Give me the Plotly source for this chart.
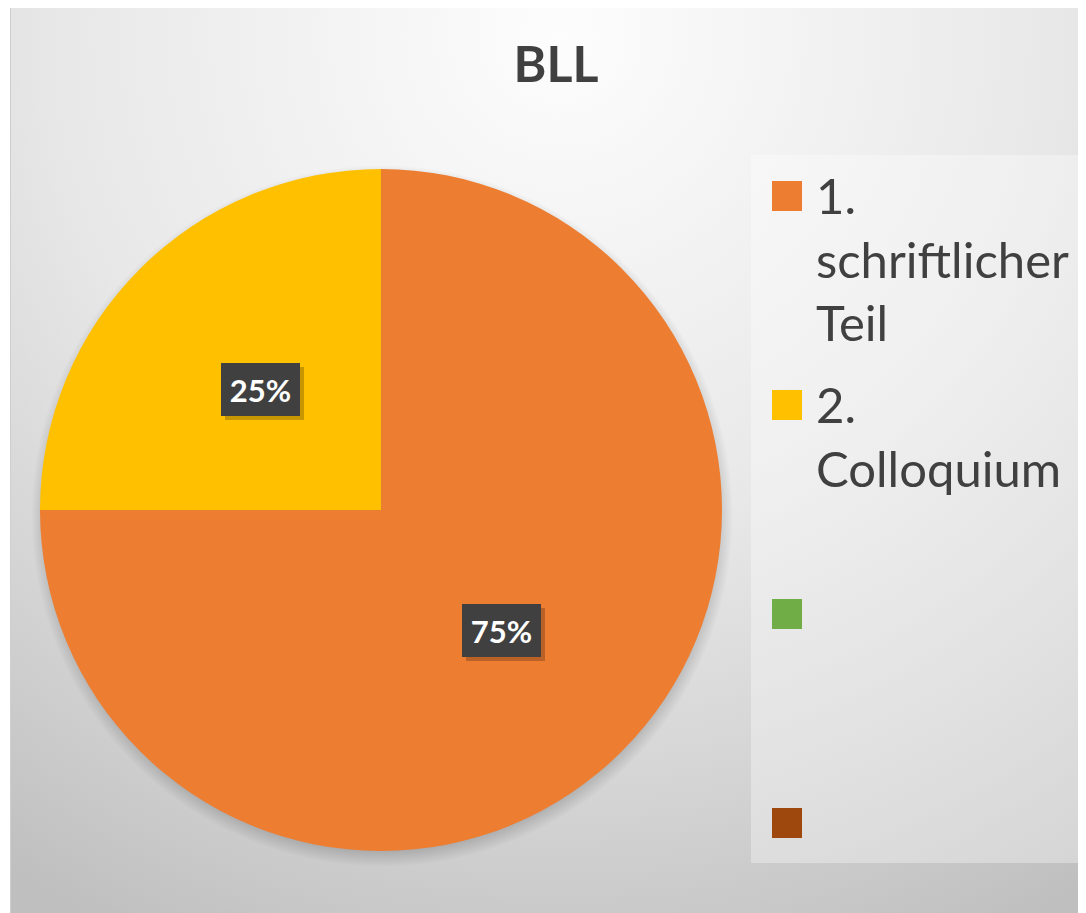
import base64
import math
import plotly.graph_objects as go

# ---------------- data ----------------
title_text = "BLL"
categories = ["1. schriftlicher Teil", "2. Colloquium", "", ""]
legend_labels = ["1.<br>schriftlicher<br>Teil", "2.<br>Colloquium", "", ""]
values = [75, 25, 0, 0]
colors = ["#ED7D31", "#FFC000", "#70AD47", "#9E480E"]

W, H = 1086, 913
OFF = 8  # page body margin

def px(x):
    return (x - OFF) / W

def py(y):
    return 1 - (y - OFF) / H

# pie geometry (page pixels)
PIE_L, PIE_R, PIE_T, PIE_B = 40, 722, 169, 851
cx, cy = (PIE_L + PIE_R) / 2, (PIE_T + PIE_B) / 2
rad = (PIE_R - PIE_L) / 2

# background: radial gradient as svg image (figure coords = page - OFF)
gx, gy = 560 - OFF, 35 - OFF
scx, scy = cx - OFF + 1, cy - OFF + 6
svg = f'''<svg xmlns="http://www.w3.org/2000/svg" width="{W}" height="{H}" viewBox="0 0 {W} {H}" preserveAspectRatio="none">
<defs><radialGradient id="g" gradientUnits="userSpaceOnUse" cx="{gx}" cy="{gy}" r="1000">
<stop offset="0" stop-color="#fdfdfd"/><stop offset="0.5" stop-color="#e8e8e8"/>
<stop offset="0.75" stop-color="#d5d5d5"/><stop offset="1" stop-color="#bfbfbf"/></radialGradient>
<radialGradient id="s" cx="0.5" cy="0.5" r="0.5">
<stop offset="0.93" stop-color="#000" stop-opacity="0.25"/><stop offset="1" stop-color="#000" stop-opacity="0"/></radialGradient></defs>
<rect x="0" y="0" width="{W}" height="{H}" fill="#ffffff"/>
<rect x="{10.5 - OFF}" y="-4" width="{W}" height="{H + 10}" fill="url(#g)" stroke="#cfcfcf" stroke-width="1"/>
<ellipse cx="{scx}" cy="{scy}" rx="{rad + 10}" ry="{rad + 10}" fill="url(#s)"/>
</svg>'''
src = "data:image/svg+xml;base64," + base64.b64encode(svg.encode()).decode()

pie_vals = [v for v in values if v > 0]
pie_labels = [c for c, v in zip(categories, values) if v > 0]
pie_cols = [c for c, v in zip(colors, values) if v > 0]

fig = go.Figure()
fig.add_trace(go.Pie(
    labels=pie_labels, values=pie_vals, sort=False, direction="clockwise", rotation=0,
    marker=dict(colors=pie_cols, line=dict(width=0)),
    textinfo="none", hoverinfo="label+percent", showlegend=False,
    domain=dict(x=[px(PIE_L), px(PIE_R)], y=[py(PIE_B), py(PIE_T)]),
))

annotations = []
shapes = []

# legend box
shapes.append(dict(type="rect", xref="paper", yref="paper", layer="below",
                   x0=px(751), x1=px(1083), y0=py(863), y1=py(155),
                   fillcolor="rgba(255,255,255,0.33)", line=dict(width=0)))

# data labels at mid-angle, half radius
total = sum(pie_vals)
cum = 0
for v in pie_vals:
    mid = (cum + v / 2) / total * 2 * math.pi
    cum += v
    lx = cx + 0.5 * rad * math.sin(mid)
    ly = cy - 0.5 * rad * math.cos(mid)
    txt = f"{round(v / total * 100)}%"
    annotations.append(dict(x=px(lx), y=py(ly), xref="paper", yref="paper", text=" ",
                            xanchor="center", yanchor="middle",
                            showarrow=False, width=79, height=53, bgcolor="rgba(0,0,0,0.22)",
                            borderpad=0, borderwidth=0, xshift=4, yshift=-4))
    annotations.append(dict(x=px(lx), y=py(ly), xref="paper", yref="paper",
                            xanchor="center", yanchor="middle",
                            text=f"<b>{txt}</b>", showarrow=False, width=79, height=53,
                            bgcolor="#404040", borderpad=0, borderwidth=0,
                            font=dict(family="Lato", size=31, color="#ffffff")))

# legend entries
LEG_TOP0, LEG_STEP, SQ = 181, 209, 30
for i, (lab, col) in enumerate(zip(legend_labels, colors)):
    top = LEG_TOP0 + i * LEG_STEP
    shapes.append(dict(type="rect", xref="paper", yref="paper",
                       x0=px(772), x1=px(772 + SQ), y0=py(top + SQ), y1=py(top),
                       fillcolor=col, line=dict(width=0)))
    if lab:
        annotations.append(dict(x=px(814), y=py(top - 17), xref="paper", yref="paper",
                                xanchor="left", yanchor="top", align="left", text=lab,
                                showarrow=False,
                                font=dict(family="Lato", size=49, color="#404040")))

fig.update_layout(
    width=W, height=H, margin=dict(l=0, r=0, t=0, b=0),
    paper_bgcolor="#ffffff",
    images=[dict(source=src, xref="paper", yref="paper", x=0, y=1, sizex=1, sizey=1,
                 xanchor="left", yanchor="top", sizing="stretch", layer="below")],
    title=dict(text=f"<b>{title_text}</b>", x=px(556), xanchor="center",
               y=py(64), yref="container", yanchor="middle",
               font=dict(family="Lato", size=50, color="#404040")),
    shapes=shapes, annotations=annotations,
)

fig.write_html("out.html")
